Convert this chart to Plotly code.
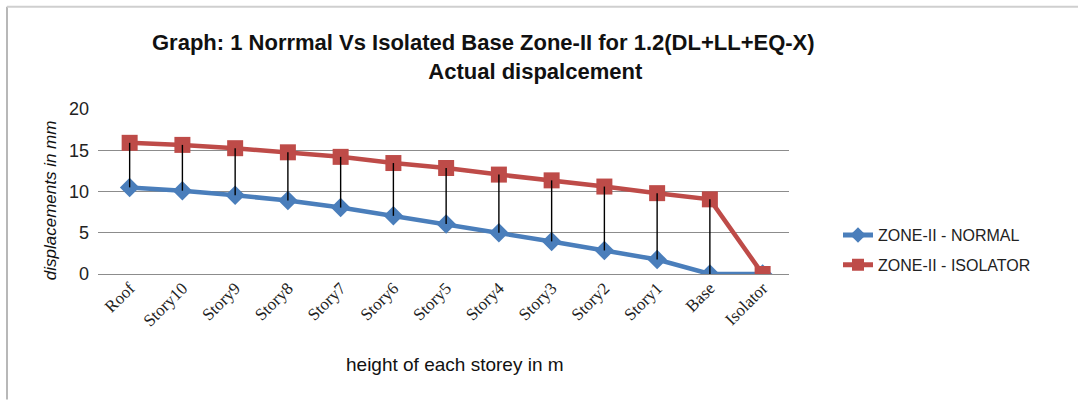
import plotly.graph_objects as go

categories = ["Roof", "Story10", "Story9", "Story8", "Story7", "Story6", "Story5",
              "Story4", "Story3", "Story2", "Story1", "Base", "Isolator"]
normal = [10.5, 10.1, 9.55, 8.9, 8.05, 7.05, 6.05, 5.0, 3.95, 2.85, 1.75, 0.0, 0.0]
isolator = [15.9, 15.65, 15.25, 14.75, 14.2, 13.45, 12.85, 12.05, 11.35, 10.6, 9.8, 9.05, 0.0]
y_ticks = [0, 5, 10, 15, 20]

W, H = 1078, 400
L, R, T, B = 98, 789, 108.5, 274


def px_x(p):
    return (p - L) / (R - L)


def px_y(p):
    return (B - p) / (B - T)


fig = go.Figure()
fig.add_trace(go.Scatter(
    x=categories, y=normal, mode="lines+markers", name="ZONE-II - NORMAL",
    legendgroup="a",
    line=dict(color="#4A7EBB", width=4.5),
    marker=dict(symbol="diamond", size=15, color="#4A7EBB"),
))
fig.add_trace(go.Scatter(
    x=categories, y=isolator, mode="lines+markers", name="ZONE-II - ISOLATOR",
    legendgroup="b",
    line=dict(color="#BE4B48", width=4.5),
    marker=dict(symbol="square", size=16, color="#BE4B48"),
))
hx, hy = [], []
for c, lo, hi in zip(categories, normal, isolator):
    hx += [c, c, None]
    hy += [hi, lo, None]
fig.add_trace(go.Scatter(x=hx, y=hy, mode="lines", showlegend=False,
                         line=dict(color="black", width=1.4), hoverinfo="skip"))

fig.update_layout(
    width=W, height=H,
    margin=dict(l=L, r=W - R, t=T, b=H - B),
    paper_bgcolor="white", plot_bgcolor="white",
    font=dict(family="Liberation Sans, Arial", color="#222"),
    showlegend=True,
    legend=dict(x=px_x(838), y=px_y(218), xanchor="left", yanchor="top",
                font=dict(size=16, family="Liberation Sans, Arial", color="#222"),
                bgcolor="rgba(0,0,0,0)", tracegroupgap=6, itemsizing="constant"),
)
fig.update_xaxes(
    type="category", range=[-0.6, 12.5], tickangle=-45,
    tickfont=dict(family="Liberation Serif, Times New Roman", size=17, color="#222"),
    showgrid=False, showline=False, ticks="", zeroline=False,
)
fig.update_yaxes(
    range=[0, 20], tickvals=y_ticks, ticktext=[str(v) for v in y_ticks],
    tickfont=dict(size=18, family="Liberation Sans, Arial", color="#222"),
    showgrid=True, gridcolor="#8c8c8c", gridwidth=1.2,
    zeroline=True, zerolinecolor="#8c8c8c", zerolinewidth=1.2,
    showline=False, ticks="", ticklabelstandoff=8,
)

title_text = ("<b>Graph: 1 Norrmal Vs Isolated Base Zone-II for 1.2(DL+LL+EQ-X)</b><br>"
              + "\u00a0" * 17 + "<b>Actual dispalcement</b>")
ann = [
    dict(text=title_text, x=px_x(483), y=px_y(56), size=22, angle=0),
    dict(text="height of each storey in m", x=px_x(455), y=px_y(365), size=19, angle=0),
    dict(text="<i>displacements in mm</i>", x=px_x(50), y=px_y(200), size=17, angle=-90),
]
for a in ann:
    fig.add_annotation(text=a["text"], x=a["x"], y=a["y"], xref="paper", yref="paper",
                       showarrow=False, textangle=a["angle"], xanchor="center", yanchor="middle",
                       font=dict(size=a["size"], family="Liberation Sans, Arial", color="#111"))

# outer frame (left and top edges visible)
fig.add_shape(type="line", xref="paper", yref="paper", x0=px_x(7), x1=px_x(7),
              y0=px_y(6), y1=px_y(400), line=dict(color="#b8b8b8", width=2))
fig.add_shape(type="line", xref="paper", yref="paper", x0=px_x(7), x1=px_x(1078),
              y0=px_y(6), y1=px_y(6), line=dict(color="#cfcfcf", width=2))

fig.write_html("out.html", config={"displayModeBar": False},
               post_script="document.body.style.margin='0';")
